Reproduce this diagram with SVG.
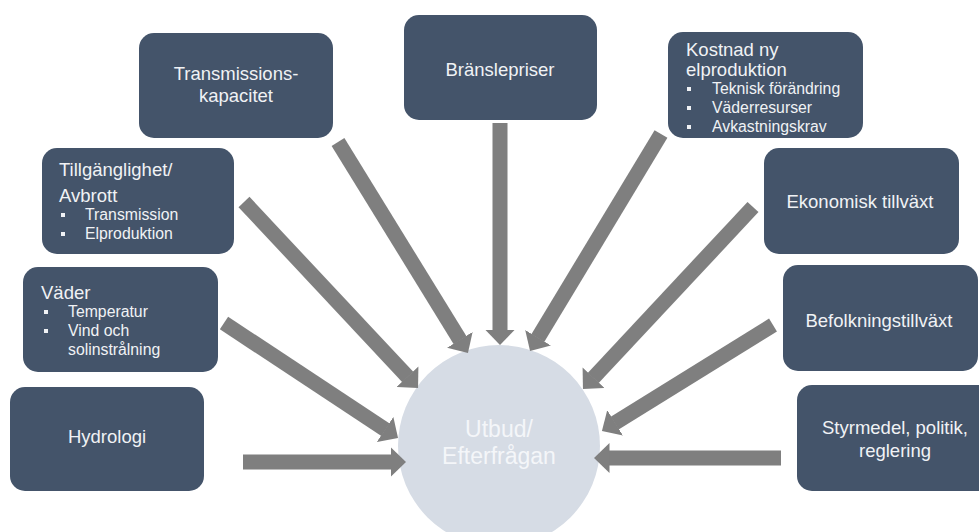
<svg xmlns="http://www.w3.org/2000/svg" width="979" height="532" viewBox="0 0 979 532">
<style>
.box{fill:#44546a}
.t{font-family:"Liberation Sans",Arial,sans-serif;font-size:18.5px;fill:#f0f2f5}
.c{text-anchor:middle}
.b{font-size:15.8px}
.sq{fill:#f0f2f5}
.arr{stroke:#7f7f7f;stroke-width:15;fill:none;marker-end:url(#ah)}
.ct{font-family:"Liberation Sans",Arial,sans-serif;font-size:23px;fill:#f4f6f9;text-anchor:middle}
</style>
<defs>
<marker id="ah" markerUnits="userSpaceOnUse" markerWidth="16" markerHeight="30" viewBox="0 0 16 30" refX="0.5" refY="15" orient="auto">
<path d="M0,0 L15.5,15 L0,30 z" fill="#7f7f7f"/>
</marker>
</defs>
<rect width="979" height="532" fill="#ffffff"/>
<g id="center">
<circle cx="499" cy="446" r="101" fill="#d6dce5"/>
<text class="ct" x="499" y="437">Utbud/</text>
<text class="ct" x="499" y="464">Efterfrågan</text>
</g>
<g id="connectors">
<line class="arr" x1="243" y1="462" x2="391" y2="462"/>
<line class="arr" x1="224" y1="323" x2="385.5" y2="429.7"/>
<line class="arr" x1="244" y1="202" x2="407.8" y2="377"/>
<line class="arr" x1="338" y1="142" x2="460.1" y2="340.2"/>
<line class="arr" x1="500" y1="123" x2="500" y2="330"/>
<line class="arr" x1="661" y1="134" x2="537.8" y2="338.2"/>
<line class="arr" x1="753" y1="207" x2="593.2" y2="378"/>
<line class="arr" x1="773" y1="325" x2="614.7" y2="423.1"/>
<line class="arr" x1="781" y1="458" x2="609" y2="458"/>
</g>
<g id="transmissionskapacitet">
<rect class="box" x="139" y="33" width="194" height="105" rx="15"/>
<text class="t c" x="236" y="80">Transmissions-</text>
<text class="t c" x="236" y="102">kapacitet</text>
</g>
<g id="branslepriser">
<rect class="box" x="404" y="15" width="193" height="105" rx="15"/>
<text class="t c" x="500" y="76">Bränslepriser</text>
</g>
<g id="kostnad">
<rect class="box" x="668" y="32" width="195" height="106" rx="15"/>
<text class="t" x="686" y="56">Kostnad ny</text>
<text class="t" x="686" y="76">elproduktion</text>
<rect class="sq" x="687" y="87" width="4" height="4"/>
<text class="t b" x="712" y="94">Teknisk förändring</text>
<rect class="sq" x="687" y="106" width="4" height="4"/>
<text class="t b" x="712" y="113">Väderresurser</text>
<rect class="sq" x="687" y="125" width="4" height="4"/>
<text class="t b" x="712" y="132">Avkastningskrav</text>
</g>
<g id="tillganglighet">
<rect class="box" x="42" y="148" width="192" height="106" rx="15"/>
<text class="t" x="59" y="176">Tillgänglighet/</text>
<text class="t" x="59" y="202">Avbrott</text>
<rect class="sq" x="61" y="213" width="4" height="4"/>
<text class="t b" x="85" y="220">Transmission</text>
<rect class="sq" x="61" y="232" width="4" height="4"/>
<text class="t b" x="85" y="239">Elproduktion</text>
</g>
<g id="vader">
<rect class="box" x="23" y="267" width="195" height="105" rx="15"/>
<text class="t" x="41" y="299">Väder</text>
<rect class="sq" x="44" y="310" width="4" height="4"/>
<text class="t b" x="68" y="317">Temperatur</text>
<rect class="sq" x="44" y="329" width="4" height="4"/>
<text class="t b" x="68" y="336">Vind och</text>
<text class="t b" x="68" y="355">solinstrålning</text>
</g>
<g id="hydrologi">
<rect class="box" x="10" y="387" width="194" height="104" rx="15"/>
<text class="t c" x="107" y="443">Hydrologi</text>
</g>
<g id="ekonomisk">
<rect class="box" x="764" y="148" width="195" height="106" rx="15"/>
<text class="t c" x="860" y="208">Ekonomisk tillväxt</text>
</g>
<g id="befolkning">
<rect class="box" x="783" y="265" width="195" height="106" rx="15"/>
<text class="t c" x="879" y="327">Befolkningstillväxt</text>
</g>
<g id="styrmedel">
<rect class="box" x="797" y="385" width="195" height="106" rx="15"/>
<text class="t c" x="895" y="434">Styrmedel, politik,</text>
<text class="t c" x="895" y="457">reglering</text>
</g>
</svg>
